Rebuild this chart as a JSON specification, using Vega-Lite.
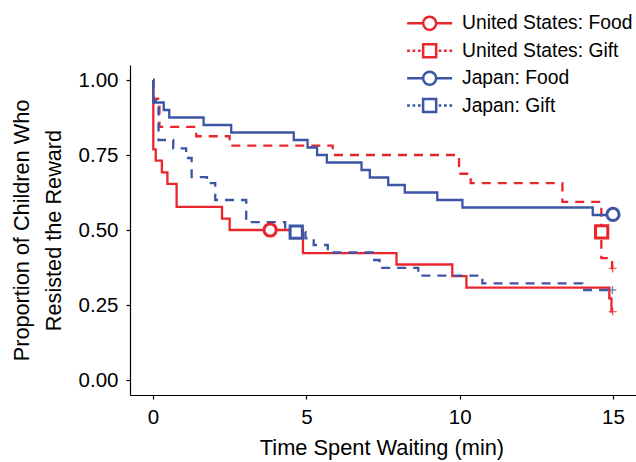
{
  "$schema": "https://vega.github.io/schema/vega-lite/v6.json",
  "width": 506,
  "height": 330,
  "autosize": {"type": "none"},
  "padding": {"left": 130, "top": 65, "right": 0, "bottom": 67},
  "background": "white",
  "config": {
    "view": {"stroke": null},
    "font": "Liberation Sans, Arial, sans-serif",
    "axis": {
      "grid": false,
      "domainColor": "black",
      "domainWidth": 1.2,
      "tickColor": "black",
      "tickWidth": 1.2,
      "tickSize": 4,
      "labelFontSize": 20.5,
      "labelColor": "black",
      "titleFontSize": 21.7,
      "titleColor": "black",
      "titleFontWeight": "normal"
    }
  },
  "datasets": {
    "curves": [
      {"group": "United States: Food", "reward": "Food", "t": 0, "s": 1.0},
      {"group": "United States: Food", "reward": "Food", "t": 0.01, "s": 0.769},
      {"group": "United States: Food", "reward": "Food", "t": 0.09, "s": 0.731},
      {"group": "United States: Food", "reward": "Food", "t": 0.29, "s": 0.692},
      {"group": "United States: Food", "reward": "Food", "t": 0.47, "s": 0.654},
      {"group": "United States: Food", "reward": "Food", "t": 0.77, "s": 0.577},
      {"group": "United States: Food", "reward": "Food", "t": 2.25, "s": 0.538},
      {"group": "United States: Food", "reward": "Food", "t": 2.5, "s": 0.5},
      {"group": "United States: Food", "reward": "Food", "t": 4.89, "s": 0.423},
      {"group": "United States: Food", "reward": "Food", "t": 7.94, "s": 0.385},
      {"group": "United States: Food", "reward": "Food", "t": 9.76, "s": 0.346},
      {"group": "United States: Food", "reward": "Food", "t": 10.22, "s": 0.308},
      {"group": "United States: Food", "reward": "Food", "t": 14.88, "s": 0.272},
      {"group": "United States: Food", "reward": "Food", "t": 14.95, "s": 0.228},
      {"group": "United States: Food", "reward": "Food", "t": 14.99, "s": 0.228},
      {"group": "United States: Gift", "reward": "Gift", "t": 0, "s": 1.0},
      {"group": "United States: Gift", "reward": "Gift", "t": 0.01, "s": 0.9375},
      {"group": "United States: Gift", "reward": "Gift", "t": 0.21, "s": 0.844},
      {"group": "United States: Gift", "reward": "Gift", "t": 1.41, "s": 0.8125},
      {"group": "United States: Gift", "reward": "Gift", "t": 2.5, "s": 0.781},
      {"group": "United States: Gift", "reward": "Gift", "t": 5.86, "s": 0.75},
      {"group": "United States: Gift", "reward": "Gift", "t": 9.98, "s": 0.6875},
      {"group": "United States: Gift", "reward": "Gift", "t": 10.36, "s": 0.656},
      {"group": "United States: Gift", "reward": "Gift", "t": 13.35, "s": 0.594},
      {"group": "United States: Gift", "reward": "Gift", "t": 14.62, "s": 0.406},
      {"group": "United States: Gift", "reward": "Gift", "t": 14.97, "s": 0.372},
      {"group": "United States: Gift", "reward": "Gift", "t": 14.99, "s": 0.372},
      {"group": "Japan: Food", "reward": "Food", "t": 0, "s": 1.0},
      {"group": "Japan: Food", "reward": "Food", "t": 0.01, "s": 0.925},
      {"group": "Japan: Food", "reward": "Food", "t": 0.35, "s": 0.9},
      {"group": "Japan: Food", "reward": "Food", "t": 0.53, "s": 0.875},
      {"group": "Japan: Food", "reward": "Food", "t": 1.65, "s": 0.85},
      {"group": "Japan: Food", "reward": "Food", "t": 2.55, "s": 0.825},
      {"group": "Japan: Food", "reward": "Food", "t": 4.59, "s": 0.8},
      {"group": "Japan: Food", "reward": "Food", "t": 5.04, "s": 0.775},
      {"group": "Japan: Food", "reward": "Food", "t": 5.35, "s": 0.75},
      {"group": "Japan: Food", "reward": "Food", "t": 5.67, "s": 0.725},
      {"group": "Japan: Food", "reward": "Food", "t": 6.8, "s": 0.7},
      {"group": "Japan: Food", "reward": "Food", "t": 7.07, "s": 0.675},
      {"group": "Japan: Food", "reward": "Food", "t": 7.67, "s": 0.65},
      {"group": "Japan: Food", "reward": "Food", "t": 8.21, "s": 0.625},
      {"group": "Japan: Food", "reward": "Food", "t": 9.27, "s": 0.6},
      {"group": "Japan: Food", "reward": "Food", "t": 10.09, "s": 0.575},
      {"group": "Japan: Food", "reward": "Food", "t": 14.34, "s": 0.55},
      {"group": "Japan: Food", "reward": "Food", "t": 15.0, "s": 0.55},
      {"group": "Japan: Gift", "reward": "Gift", "t": 0, "s": 1.0},
      {"group": "Japan: Gift", "reward": "Gift", "t": 0.01, "s": 0.93},
      {"group": "Japan: Gift", "reward": "Gift", "t": 0.18, "s": 0.8},
      {"group": "Japan: Gift", "reward": "Gift", "t": 0.66, "s": 0.772},
      {"group": "Japan: Gift", "reward": "Gift", "t": 1.08, "s": 0.74},
      {"group": "Japan: Gift", "reward": "Gift", "t": 1.26, "s": 0.676},
      {"group": "Japan: Gift", "reward": "Gift", "t": 1.76, "s": 0.656},
      {"group": "Japan: Gift", "reward": "Gift", "t": 2.03, "s": 0.6},
      {"group": "Japan: Gift", "reward": "Gift", "t": 3.04, "s": 0.526},
      {"group": "Japan: Gift", "reward": "Gift", "t": 4.31, "s": 0.493},
      {"group": "Japan: Gift", "reward": "Gift", "t": 4.97, "s": 0.472},
      {"group": "Japan: Gift", "reward": "Gift", "t": 5.24, "s": 0.45},
      {"group": "Japan: Gift", "reward": "Gift", "t": 5.7, "s": 0.425},
      {"group": "Japan: Gift", "reward": "Gift", "t": 7.17, "s": 0.4},
      {"group": "Japan: Gift", "reward": "Gift", "t": 7.39, "s": 0.374},
      {"group": "Japan: Gift", "reward": "Gift", "t": 8.65, "s": 0.348},
      {"group": "Japan: Gift", "reward": "Gift", "t": 10.74, "s": 0.322},
      {"group": "Japan: Gift", "reward": "Gift", "t": 14.0, "s": 0.3},
      {"group": "Japan: Gift", "reward": "Gift", "t": 14.98, "s": 0.3}
    ],
    "markers": [
      {"group": "United States: Food", "reward": "Food", "t": 3.82, "s": 0.5},
      {"group": "United States: Gift", "reward": "Gift", "t": 14.63, "s": 0.494},
      {"group": "Japan: Food", "reward": "Food", "t": 15.0, "s": 0.552},
      {"group": "Japan: Gift", "reward": "Gift", "t": 4.67, "s": 0.493}
    ],
    "censored": [
      {"group": "United States: Food", "t": 14.99, "s": 0.228},
      {"group": "United States: Gift", "t": 14.99, "s": 0.372},
      {"group": "Japan: Gift", "t": 14.98, "s": 0.3}
    ]
  },
  "layer": [
    {
      "data": {"name": "curves"},
      "mark": {"type": "line", "interpolate": "step-after", "strokeWidth": 2.3},
      "encoding": {
        "x": {
          "field": "t", "type": "quantitative",
          "scale": {"domain": [-0.75, 15.75], "nice": false, "zero": false},
          "axis": {
            "values": [0, 5, 10, 15],
            "title": "Time Spent Waiting (min)",
            "titleFontSize": 21.8,
            "labelBaseline": "alphabetic",
            "labelPadding": 24,
            "titleBaseline": "alphabetic",
            "titleX": 251.5,
            "titleY": 59
          }
        },
        "y": {
          "field": "s", "type": "quantitative",
          "scale": {"domain": [-0.05, 1.05], "nice": false, "zero": false},
          "axis": {
            "values": [0, 0.25, 0.5, 0.75, 1],
            "format": ".2f",
            "labelPadding": 8,
            "title": ["Proportion of Children Who", "Resisted the Reward"],
            "titleBaseline": "alphabetic",
            "titleAlign": "center",
            "titleLineHeight": 32,
            "titleX": -101.7,
            "titleY": 165
          }
        },
        "stroke": {
          "field": "group", "type": "nominal",
          "scale": {
            "domain": ["United States: Food", "United States: Gift", "Japan: Food", "Japan: Gift"],
            "range": ["#E8262C", "#E8262C", "#3C55A5", "#3C55A5"]
          },
          "legend": {
            "orient": "none",
            "legendX": 290,
            "legendY": -51.3,
            "title": null,
            "padding": 0,
            "labelFontSize": 19.3,
            "labelColor": "black",
            "labelLimit": 400,
            "labelOffset": 22.7,
            "symbolSize": 225,
            "symbolStrokeWidth": 2.5,
            "rowPadding": 3.4,
            "encode": {
              "symbols": {
                "update": {
                  "shape": {"signal": "indexof(datum.value, 'Food') >= 0 ? 'M-3,0L-0.87,0M0.87,0L3,0M0.87,0A0.87,0.87,0,1,1,-0.87,0A0.87,0.87,0,1,1,0.87,0Z' : 'M-3,0L-2.64,0M-2.28,0L-1.92,0M-1.56,0L-1.2,0M1.2,0L1.56,0M1.92,0L2.28,0M2.64,0L3,0M-0.87,-0.87L0.87,-0.87L0.87,0.87L-0.87,0.87Z'"},
                  "fill": {"value": "white"},
                  "strokeDash": {"value": []},
                  "strokeWidth": {"value": 2.5},
                  "size": {"value": 225}
                }
              }
            }
          }
        },
        "strokeDash": {
          "field": "reward", "type": "nominal",
          "scale": {"domain": ["Food", "Gift"], "range": [[1, 0], [9, 7]]},
          "legend": null
        }
      }
    },
    {
      "data": {"name": "censored"},
      "mark": {"type": "point", "filled": false, "shape": "M-1,0L1,0M0,-1L0,1", "size": 64, "strokeWidth": 1.4},
      "encoding": {
        "x": {"field": "t", "type": "quantitative"},
        "y": {"field": "s", "type": "quantitative"},
        "stroke": {"field": "group", "type": "nominal"}
      }
    },
    {
      "data": {"name": "markers"},
      "mark": {"type": "point", "filled": true, "fill": "white", "size": 150, "strokeWidth": 3, "opacity": 1},
      "encoding": {
        "x": {"field": "t", "type": "quantitative"},
        "y": {"field": "s", "type": "quantitative"},
        "stroke": {"field": "group", "type": "nominal"},
        "shape": {
          "field": "reward", "type": "nominal",
          "scale": {"domain": ["Food", "Gift"], "range": ["circle", "square"]},
          "legend": null
        }
      }
    }
  ]
}
